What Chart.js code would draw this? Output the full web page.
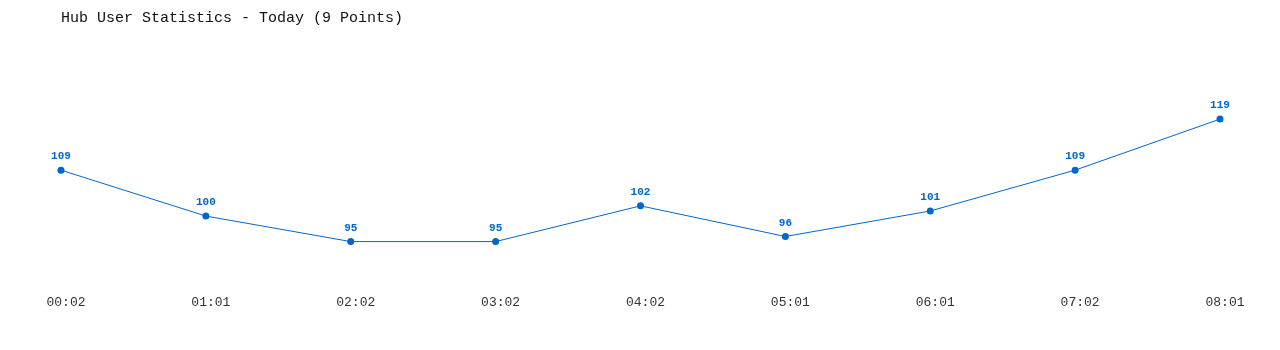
<!DOCTYPE html>
<html>
<head>
<meta charset="utf-8">
<script src="https://cdn.jsdelivr.net/npm/chart.js@4/dist/chart.umd.min.js"></script>
<style>
  html, body { margin: 0; padding: 0; background: #fff; }
  #wrap { width: 1280px; height: 350px; }
</style>
</head>
<body>
<div id="wrap"><canvas id="hubChart"></canvas></div>
<script>
const times = ["00:02", "01:01", "02:02", "03:02", "04:02", "05:01", "06:01", "07:02", "08:01"];
const users = [109, 100, 95, 95, 102, 96, 101, 109, 119];
const chartTitle = "Hub User Statistics - Today (9 Points)";

const blue = "#0066cc";
const mono = "'Liberation Mono', 'DejaVu Sans Mono', monospace";

// values written above each point
const pointLabels = {
  id: "pointLabels",
  afterDatasetsDraw(chart) {
    const ctx = chart.ctx;
    const meta = chart.getDatasetMeta(0);
    ctx.save();
    ctx.font = "bold 11px " + mono;
    ctx.fillStyle = blue;
    ctx.textAlign = "center";
    ctx.textBaseline = "bottom";
    meta.data.forEach((pt, i) => {
      ctx.fillText(String(users[i]), pt.x, pt.y - 8);
    });
    ctx.restore();
  },
};

const ctx = document.getElementById("hubChart").getContext("2d");
new Chart(ctx, {
  type: "line",
  data: {
    labels: times,
    datasets: [
      {
        data: users,
        borderColor: blue,
        backgroundColor: blue,
        borderWidth: 1,
        pointRadius: 3.5,
        pointBackgroundColor: blue,
        pointBorderWidth: 0,
        tension: 0,
        fill: false,
      },
    ],
  },
  options: {
    responsive: true,
    maintainAspectRatio: false,
    animation: false,
    layout: {
      padding: { left: 61, right: 60, top: 0, bottom: 35 },
    },
    scales: {
      x: {
        offset: false,
        grid: { display: false },
        border: { display: false },
        ticks: {
          color: "#333",
          padding: 5,
          labelOffset: 5,
          maxRotation: 0,
          autoSkip: false,
          font: { family: mono, size: 13 },
        },
      },
      y: {
        display: false,
        min: 87.2,
        max: 124.9,
      },
    },
    plugins: {
      legend: { display: false },
      tooltip: { enabled: false },
      title: {
        display: true,
        text: chartTitle,
        align: "start",
        color: "#111",
        font: { family: mono, size: 15, weight: "normal" },
        padding: { top: 9, bottom: 62 },
      },
    },
  },
  plugins: [pointLabels],
});
</script>
</body>
</html>
